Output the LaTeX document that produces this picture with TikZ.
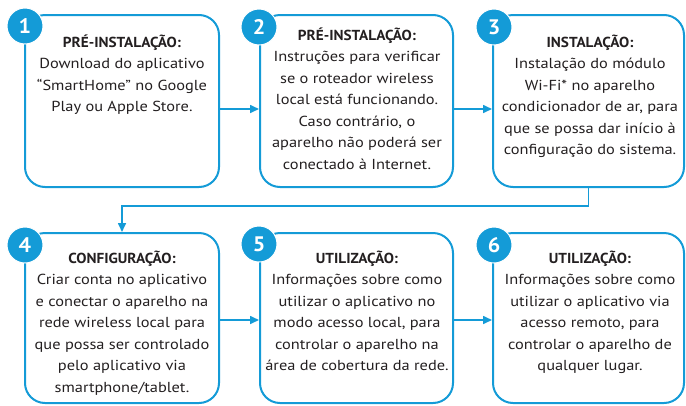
\documentclass[tikz,border=0pt]{standalone}
\usepackage{fontspec}
\setmainfont{PT Sans}[FakeStretch=1.13, BoldFeatures={FakeStretch=1.05}]
\usetikzlibrary{arrows.meta}
\definecolor{hpblue}{RGB}{20,155,215}
\definecolor{txt}{RGB}{35,31,32}
\tikzset{
  stepbox/.style={draw=hpblue, line width=2pt, rounded corners=20pt, minimum height=172pt, inner sep=0pt},
  steptext/.style={anchor=base, align=center, inner sep=0pt, text=txt, font=\fontsize{14.5pt}{21.5pt}\selectfont},
  badge/.style={circle, fill=hpblue, draw=white, line width=1pt, minimum size=36pt, inner sep=0pt, text=white, font=\fontsize{21pt}{21pt}\selectfont\bfseries},
  flow/.style={draw=hpblue, line width=1.6pt, -{Triangle[length=9pt,width=8pt]}}
}
\begin{document}
\begin{tikzpicture}[x=1pt,y=-1pt]
\useasboundingbox (0,0) rectangle (686,405);
% boxes
\node[stepbox, minimum width=194pt] (b1) at (122,101) {};
\node[stepbox, minimum width=193pt] (b2) at (356.5,101) {};
\node[stepbox, minimum width=191pt] (b3) at (588.5,101) {};
\node[stepbox, minimum width=194pt, minimum height=170pt] (b4) at (122,318) {};
\node[stepbox, minimum width=193pt, minimum height=170pt] (b5) at (356.5,318) {};
\node[stepbox, minimum width=191pt, minimum height=170pt] (b6) at (588.5,318) {};
% texts (anchor = baseline of last line)
\node[steptext] (t1) at (122,111.5) {\textbf{PRÉ-INSTALAÇÃO:}\\Download do aplicativo\\“SmartHome” no Google\\Play ou Apple Store.};
\node[steptext] (t2) at (357,169) {\textbf{PRÉ-INSTALAÇÃO:}\\Instruções para verificar\\se o roteador wireless\\local está funcionando.\\Caso contrário, o\\aparelho não poderá ser\\conectado à Internet.};
\node[steptext] (t3) at (590,154.5) {\textbf{INSTALAÇÃO:}\\Instalação do módulo\\Wi-Fi* no aparelho\\condicionador de ar, para\\que se possa dar início à\\configuração do sistema.};
\node[steptext] (t4) at (122,392) {\textbf{CONFIGURAÇÃO:}\\Criar conta no aplicativo\\e conectar o aparelho na\\rede wireless local para\\que possa ser controlado\\pelo aplicativo via\\smartphone/tablet.};
\node[steptext] (t5) at (357,370.5) {\textbf{UTILIZAÇÃO:}\\Informações sobre como\\utilizar o aplicativo no\\modo acesso local, para\\controlar o aparelho na\\área de cobertura da rede.};
\node[steptext] (t6) at (590,370.5) {\textbf{UTILIZAÇÃO:}\\Informações sobre como\\utilizar o aplicativo via\\acesso remoto, para\\controlar o aparelho de\\qualquer lugar.};
% badges
\node[badge] (c1) at (25,26) {1};
\node[badge] (c2) at (259,27) {2};
\node[badge] (c3) at (494,27) {3};
\node[badge] (c4) at (25,245) {4};
\node[badge] (c5) at (259,244) {5};
\node[badge] (c6) at (494,245) {6};
% connectors
\draw[flow] ([yshift=-8pt]b1.east) -- ([yshift=-8pt]b2.west);
\draw[flow] ([yshift=-8pt]b2.east) -- ([yshift=-8pt]b3.west);
\draw[flow] (b3.south) -- ++(0,18) -| (b4.north);
\draw[flow] ([yshift=-2pt]b4.east) -- ([yshift=-2pt]b5.west);
\draw[flow] ([yshift=-2pt]b5.east) -- ([yshift=-2pt]b6.west);
\end{tikzpicture}
\end{document}
